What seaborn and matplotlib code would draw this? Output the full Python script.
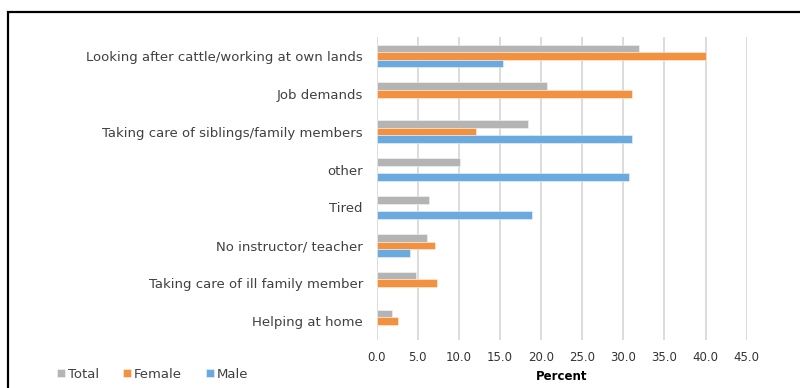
import matplotlib
matplotlib.use("Agg")
import matplotlib.pyplot as plt
from matplotlib.patches import Rectangle
import numpy as np
import pandas as pd
import seaborn as sns

# Reasons, top to bottom
reasons = [
    "Looking after cattle/working at own lands",
    "Job demands",
    "Taking care of siblings/family members",
    "other",
    "Tired",
    "No instructor/ teacher",
    "Taking care of ill family member",
    "Helping at home",
]
total = [31.9, 20.7, 18.4, 10.1, 6.3, 6.1, 4.8, 1.8]
female = [40.0, 31.1, 12.1, np.nan, np.nan, 7.1, 7.3, 2.6]
male = [15.3, np.nan, 31.1, 30.7, 18.9, 4.1, np.nan, np.nan]

series = ["Total", "Female", "Male"]
colors = ["#B4B4B4", "#F4913F", "#6AAADE"]
xticks = [0, 5, 10, 15, 20, 25, 30, 35, 40, 45]

df = pd.DataFrame({
    "reason": reasons * 3,
    "series": np.repeat(series, len(reasons)),
    "percent": total + female + male,
}).dropna()

sns.set_theme(style="white")
plt.rcParams["font.family"] = ["DejaVu Sans"]

fig = plt.figure(figsize=(8.0, 3.88), dpi=100)
ax = fig.add_axes([0.4709, 0.1237, 0.4625, 0.781])

sns.barplot(
    data=df, y="reason", x="percent", hue="series",
    order=reasons, hue_order=series, palette=colors, saturation=1,
    orient="h", width=0.6, edgecolor="#F4F4F4", linewidth=0.4,
    errorbar=None, ax=ax, zorder=3,
)

ax.set_xlim(0, 45)
ax.set_xticks(xticks)
ax.set_xticklabels([f"{v:.1f}" for v in xticks], fontsize=8.5, color="#333333")
ax.tick_params(axis="x", length=0, pad=8)
ax.tick_params(axis="y", length=0, pad=10, labelsize=9.5, labelcolor="#404040")
ax.set_ylabel("")
ax.set_xlabel("Percent", fontsize=8.5, fontweight="bold", color="#000000", labelpad=4)
ax.grid(axis="x", color="#D9D9D9", linewidth=1.3, zorder=0)
ax.grid(axis="y", visible=False)
for s in ax.spines.values():
    s.set_visible(False)

handles, labels = ax.get_legend_handles_labels()
ax.legend_.remove()
fig.legend(
    handles, labels, loc="lower left", bbox_to_anchor=(0.056, -0.012),
    ncol=3, frameon=False, fontsize=9.5, handlelength=0.6, handleheight=0.6,
    handletextpad=0.25, columnspacing=1.8, labelcolor="#404040",
)

# outer chart frame
fig.patches.append(Rectangle(
    (7.5 / 800, -0.1), 1.2, 1.0 - 12 / 388 + 0.1,
    transform=fig.transFigure, fill=False, edgecolor="black",
    linewidth=1.6, clip_on=False,
))

fig.savefig("out.png", dpi=100)
